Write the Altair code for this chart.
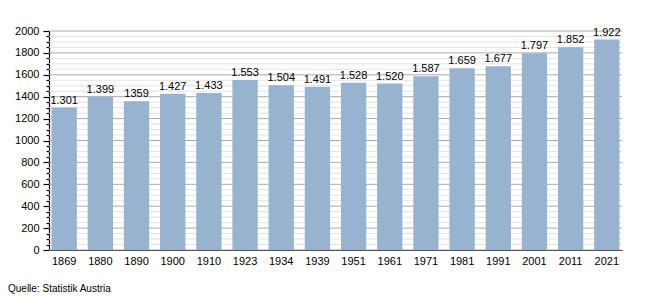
import altair as alt
import pandas as pd

years = ["1869", "1880", "1890", "1900", "1910", "1923", "1934", "1939",
         "1951", "1961", "1971", "1981", "1991", "2001", "2011", "2021"]
values = [1301, 1399, 1359, 1427, 1433, 1553, 1504, 1491,
          1528, 1520, 1587, 1659, 1677, 1797, 1852, 1922]
labels = ["1.301", "1.399", "1359", "1.427", "1.433", "1.553", "1.504", "1.491",
          "1.528", "1.520", "1.587", "1.659", "1.677", "1.797", "1.852", "1.922"]
major_ticks = [0, 200, 400, 600, 800, 1000, 1200, 1400, 1600, 1800, 2000]
minor_ticks = [v for v in range(0, 2001, 50) if v % 200 != 0]
source_text = "Quelle: Statistik Austria"

df = pd.DataFrame({"year": years, "value": values, "label": labels})

FONT = "Liberation Sans"
major = "datum.value % 200 === 0"

x = alt.X("year:N", sort=years, title=None,
          scale=alt.Scale(paddingInner=0.3, paddingOuter=0.07),
          axis=alt.Axis(labelAngle=0, ticks=False, domainColor="#000", domainWidth=1.2,
                        labelFont=FONT, labelFontSize=11, labelColor="#000", labelPadding=5,
                        labelOverlap=False))
yscale = alt.Scale(domain=[0, 2000], nice=False)
y = alt.Y("value:Q", title=None, scale=yscale,
          axis=alt.Axis(values=list(range(0, 2001, 50)),
                        labelExpr="datum.value % 200 === 0 ? datum.value : ''",
                        labelOverlap=False, grid=False,
                        tickSize={"condition": {"test": major, "value": 6}, "value": 3},
                        tickColor="#000", tickWidth=1.2,
                        domainColor="#000", domainWidth=1.2,
                        labelFont=FONT, labelFontSize=11, labelColor="#000", labelPadding=4))

grid_minor = alt.Chart(pd.DataFrame({"value": minor_ticks})).mark_rule(
    color="#e3e3e3", strokeWidth=1).encode(y=y)
grid_major = alt.Chart(pd.DataFrame({"value": major_ticks})).mark_rule(
    color="#aaaaaa", strokeWidth=1).encode(y=y)
bars = alt.Chart(df).mark_bar(color="#98b3cf").encode(x=x, y=y)
text = alt.Chart(df).mark_text(dy=-7, font=FONT, fontSize=11, color="#000").encode(
    x=x, y=y, text="label:N")
src = alt.Chart(pd.DataFrame({"t": [source_text]})).mark_text(
    align="left", baseline="middle", font=FONT, fontSize=10, color="#000").encode(
    x=alt.value(-41), y=alt.value(258), text="t:N")

chart = alt.layer(grid_minor, grid_major, bars, text, src).properties(
    width=573, height=219,
    autosize=alt.AutoSizeParams(type="none"),
    padding={"left": 49, "top": 31, "right": 28, "bottom": 50},
    background="white",
).configure_view(stroke=None)

chart.save("out.html", embed_options={"renderer": "svg", "actions": False})
